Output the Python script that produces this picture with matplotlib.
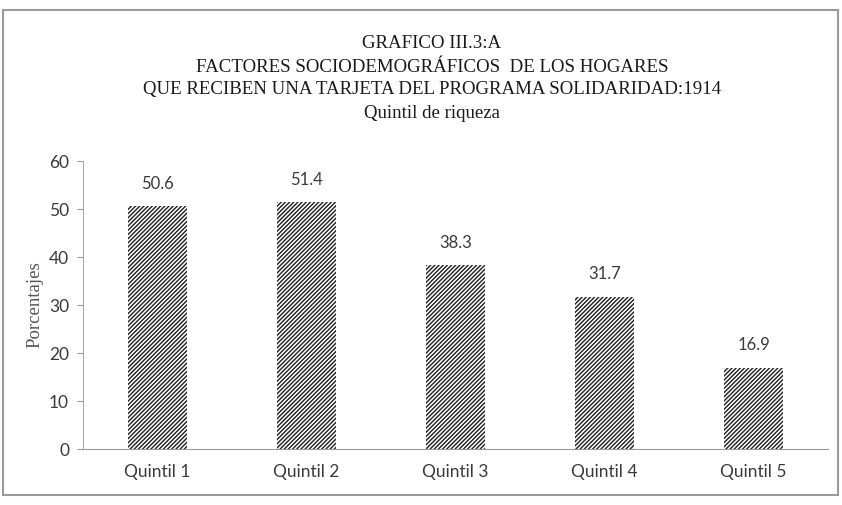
import matplotlib.pyplot as plt
from matplotlib.patches import Rectangle

# data
categorias = ["Quintil 1", "Quintil 2", "Quintil 3", "Quintil 4", "Quintil 5"]
valores = [50.6, 51.4, 38.3, 31.7, 16.9]
titulo = ["GRAFICO III.3:A",
          "FACTORES SOCIODEMOGRÁFICOS  DE LOS HOGARES",
          "QUE RECIBEN UNA TARJETA DEL PROGRAMA SOLIDARIDAD:1914",
          "Quintil de riqueza"]

plt.rcParams['hatch.linewidth'] = 1.0
plt.rcParams['hatch.color'] = '#1e1e1e'

fig = plt.figure(figsize=(8.42, 5.05), dpi=100)
ax = fig.add_axes([83/842, 1 - 449/505, 745/842, 288/505])

x = range(len(categorias))
ax.bar(x, valores, width=0.4, color='white', hatch='/' * 8,
       edgecolor='#1e1e1e', linewidth=0)
for i, v in zip(x, valores):
    ax.text(i, v + 3.0, f"{v:.1f}", ha='center', va='bottom',
            fontsize=12, family='Lato', color='#3a3a3a')

ax.set_xlim(-0.5, 4.5)
ax.set_ylim(0, 60)
ax.set_yticks(range(0, 61, 10))
ax.set_xticks(list(x))
ax.set_xticklabels(categorias, family='Lato', fontsize=12.5, color='#3a3a3a')
for lab in ax.get_yticklabels():
    lab.set_family('Lato')
    lab.set_fontsize(12.5)
    lab.set_color('#3a3a3a')
ax.tick_params(axis='x', length=0, pad=11)
ax.tick_params(axis='y', length=4, color='#999999', pad=6)
for s in ['top', 'right']:
    ax.spines[s].set_visible(False)
ax.spines['left'].set_color('#aaaaaa')
ax.spines['bottom'].set_color('#999999')
ax.set_ylabel("Porcentajes", family='Liberation Serif', fontsize=13.5,
              color='#555555', labelpad=4)

ys = [44, 67, 90, 113]
for t, y in zip(titulo, ys):
    fig.text(432/842, 1 - y/505, t, ha='center', va='center',
             family='Liberation Serif', fontsize=13.6, color='#1a1a1a')

# frame around the chart
fig.patches.append(Rectangle((3/842, 1 - 495/505), 835/842, 485/505,
                             transform=fig.transFigure, fill=False,
                             edgecolor='#9a9a9a', linewidth=1.5))

fig.savefig("out.png", dpi=100)
